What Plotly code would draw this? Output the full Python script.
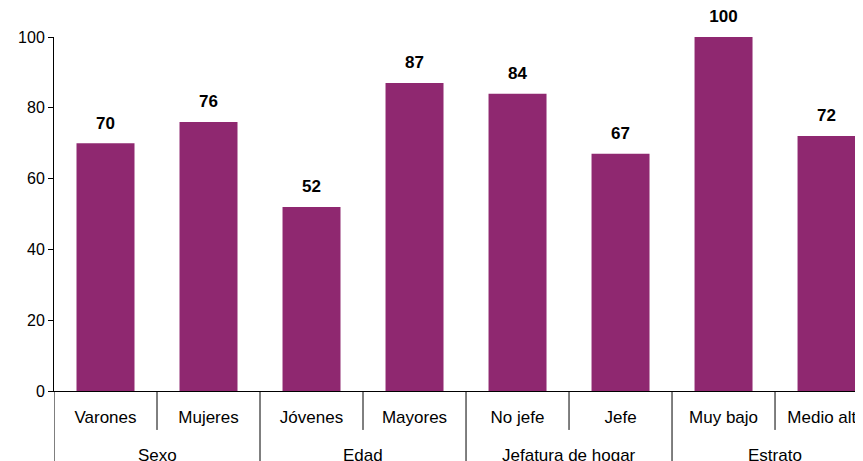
import plotly.graph_objects as go

groups = ["Sexo", "Sexo", "Edad", "Edad", "Jefatura de hogar", "Jefatura de hogar", "Estrato", "Estrato"]
categories = ["Varones", "Mujeres", "Jóvenes", "Mayores", "No jefe", "Jefe", "Muy bajo", "Medio alto"]
values = [70, 76, 52, 87, 84, 67, 100, 72]
y_ticks = [0, 20, 40, 60, 80, 100]

FONT = "Liberation Sans, Arial, sans-serif"
BAR = "#8f2870"

fig = go.Figure()
fig.add_trace(go.Bar(
    x=categories, y=values,
    marker=dict(color=BAR, line=dict(width=0)),
    hoverinfo="skip",
))
fig.add_trace(go.Scatter(
    x=categories, y=values,
    mode="markers+text",
    marker=dict(size=15, opacity=0),
    text=[str(v) for v in values],
    textposition="top center",
    textfont=dict(family=FONT, size=17, color="black", weight="bold"),
    hoverinfo="skip", cliponaxis=False,
))

# dividers: short between categories of the same group, long between groups
shapes = []
annotations = []
n = len(categories)
for i in range(-1, n):
    left = groups[i] if i >= 0 else None
    right = groups[i + 1] if i + 1 < n else None
    same = left is not None and left == right
    shapes.append(dict(type="line", xref="x", yref="paper",
                       x0=i + 0.5, x1=i + 0.5, y0=0, y1=-0.11 if same else -0.25,
                       line=dict(color="black", width=1)))

# group labels centred under their categories
seen = []
for g in groups:
    if g not in seen:
        seen.append(g)
for g in seen:
    idx = [i for i, gg in enumerate(groups) if gg == g]
    annotations.append(dict(x=sum(idx) / len(idx), xref="x", y=0, yref="paper",
                            yanchor="middle", yshift=-64, showarrow=False,
                            text=g, font=dict(family=FONT, size=17, color="black")))

fig.update_layout(
    width=855, height=453,
    margin=dict(l=46, r=0, t=29, b=70, autoexpand=False),
    plot_bgcolor="white", paper_bgcolor="white",
    showlegend=False, bargap=0.437,
    font=dict(family=FONT, color="black"),
    shapes=shapes, annotations=annotations,
    xaxis=dict(
        type="category", range=[-0.5, 7.354], automargin=False,
        showline=True, linecolor="black", linewidth=1,
        ticks="outside", ticklen=11, tickcolor="rgba(0,0,0,0)",
        tickfont=dict(family=FONT, size=17, color="black"),
        showgrid=False, zeroline=False,
    ),
    yaxis=dict(
        range=[0, 100], tickvals=y_ticks, automargin=False,
        showline=True, linecolor="black", linewidth=1,
        ticks="outside", ticklen=5, tickcolor="black",
        tickfont=dict(family=FONT, size=16, color="black"),
        showgrid=False, zeroline=False,
    ),
)

fig.write_html("out.html")
